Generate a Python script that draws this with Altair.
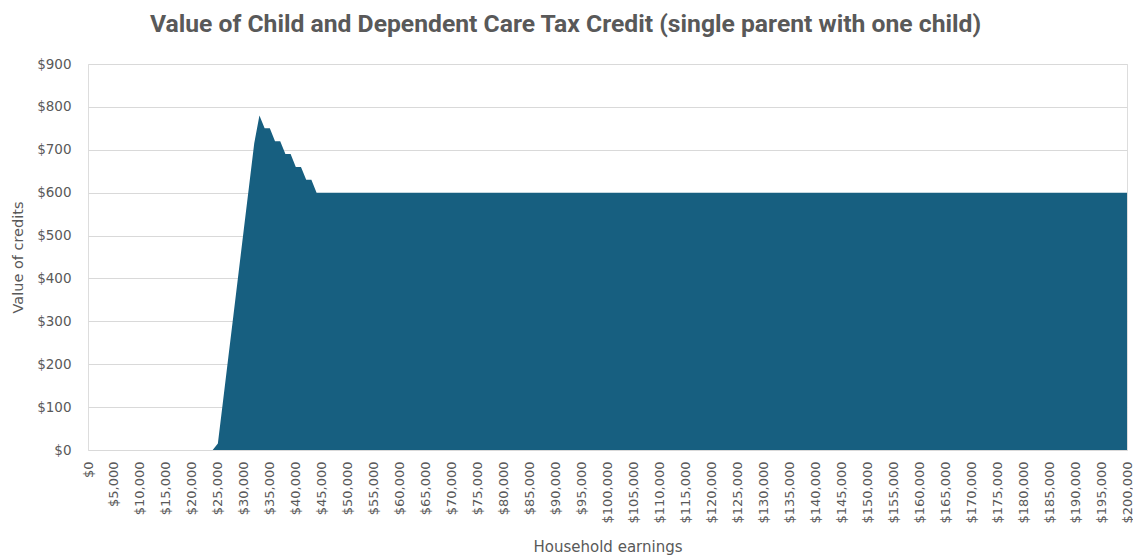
import altair as alt
import pandas as pd

# Household earnings (category positions, every $1,000)
earnings = list(range(0, 201000, 1000))

# Value of credit at each earnings level
credit = (
    [0] * 25
    + [15, 115, 215, 315, 415, 515, 615, 715, 780, 750, 750, 720, 720,
       690, 690, 660, 660, 630, 630]
    + [600] * 157
)

x_ticks = list(range(0, 200001, 5000))
y_ticks = list(range(0, 901, 100))

df = pd.DataFrame({"earnings": earnings, "credit": credit})

FONT = "DejaVu Sans"
GREY = "#595959"

chart = (
    alt.Chart(df)
    .mark_area(color="#175f80", opacity=1, interpolate="linear")
    .encode(
        x=alt.X(
            "earnings:Q",
            scale=alt.Scale(domain=[0, 200000], nice=False, zero=True),
            axis=alt.Axis(
                values=x_ticks,
                format="$,.0f",
                labelAngle=-90,
                labelAlign="right",
                labelBaseline="middle",
                labelPadding=11,
                labelFontSize=13,
                labelColor=GREY,
                labelFont=FONT,
                labelOverlap=False,
                labelFlush=False,
                ticks=False,
                domain=False,
                grid=False,
                title="Household earnings",
                titleFont=FONT,
                titleFontSize=15,
                titleFontWeight="normal",
                titleColor=GREY,
                titlePadding=16,
            ),
        ),
        y=alt.Y(
            "credit:Q",
            scale=alt.Scale(domain=[0, 900], nice=False),
            axis=alt.Axis(
                values=y_ticks,
                format="$,.0f",
                labelFontSize=13.5,
                labelColor=GREY,
                labelFont=FONT,
                labelPadding=17,
                ticks=False,
                domain=False,
                grid=True,
                gridColor="#d9d9d9",
                gridWidth=1.2,
                title="Value of credits",
                titleFont=FONT,
                titleFontSize=14.5,
                titleFontWeight="normal",
                titleColor=GREY,
                titlePadding=11,
            ),
        ),
    )
    .properties(
        width=1039,
        height=386,
        autosize=alt.AutoSizeParams(type="none"),
        padding={"left": 88, "top": 64, "right": 6, "bottom": 105},
        title=alt.TitleParams(
            "Value of Child and Dependent Care Tax Credit (single parent with one child)",
            anchor="middle",
            fontSize=24.7,
            fontWeight="bold",
            font="Roboto",
            color=GREY,
            baseline="alphabetic",
            offset=31,
            dx=-42,
            dy=31,
        ),
    )
    .configure_view(stroke=None)
    .configure(background="white")
)

chart.save("out.html", embed_options={"renderer": "svg", "actions": False})
